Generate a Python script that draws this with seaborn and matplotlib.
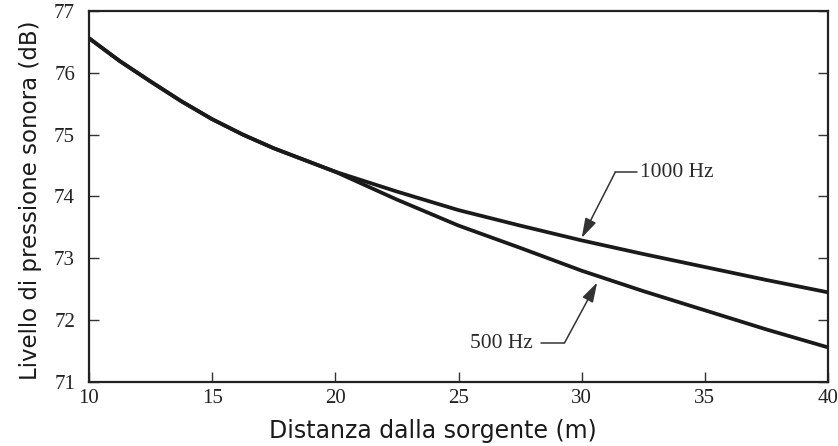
import matplotlib
matplotlib.use("Agg")
import matplotlib.pyplot as plt
import seaborn as sns
import pandas as pd

# Data
distance = [10, 11.25, 12.5, 13.75, 15, 16.25, 17.5, 20, 22.5, 25, 27.5, 30, 32.5, 35, 37.5, 40]
spl_1000 = [76.56, 76.19, 75.86, 75.54, 75.25, 75.00, 74.78, 74.40, 74.08, 73.78, 73.53, 73.29, 73.07, 72.86, 72.65, 72.45]
spl_500 = [76.56, 76.19, 75.86, 75.54, 75.25, 75.00, 74.78, 74.40, 73.95, 73.53, 73.17, 72.80, 72.47, 72.16, 71.85, 71.56]
x_ticks = [10, 15, 20, 25, 30, 35, 40]
y_ticks = [71, 72, 73, 74, 75, 76, 77]
label_1000 = "1000 Hz"
label_500 = "500 Hz"
x_label = "Distanza dalla sorgente (m)"
y_label = "Livello di pressione sonora (dB)"

df = pd.DataFrame({
    "d": distance * 2,
    "spl": spl_1000 + spl_500,
    "f": [label_1000] * len(distance) + [label_500] * len(distance),
})

sns.set_theme(style="white")
plt.rcParams["font.family"] = ["DejaVu Sans"]

fig = plt.figure(figsize=(8.38, 4.46), dpi=100)
ax = fig.add_axes([89 / 838, 1 - 382 / 446, (828 - 89) / 838, (382 - 11) / 446])

sns.lineplot(data=df, x="d", y="spl", hue="f", palette=["#1a1a1a", "#1a1a1a"],
             linewidth=2.7, legend=False, ax=ax)

ax.set_xlim(10, 40)
ax.set_ylim(71, 77)
ax.set_xticks(x_ticks)
ax.set_yticks(y_ticks)
serif = ["Liberation Serif", "DejaVu Serif"]
ax.set_xticklabels([str(t) for t in x_ticks], family=serif, fontsize=15, color="#222222")
ax.set_yticklabels([str(t) for t in y_ticks], family=serif, fontsize=15, color="#222222")
ax.tick_params(axis="both", direction="in", length=7, width=1.0, color="#333333",
               bottom=True, left=True, right=True, top=False)
ax.tick_params(axis="x", pad=5)
ax.tick_params(axis="y", pad=10)

for sp in ax.spines.values():
    sp.set_visible(True)
    sp.set_color("#222222")
    sp.set_linewidth(1.6)

ax.set_xlabel(x_label, fontsize=17, color="#1a1a1a")
ax.set_ylabel(y_label, fontsize=16.5, color="#1a1a1a")
ax.xaxis.set_label_coords(0.465, -0.10)
ax.yaxis.set_label_coords(-0.064, 0.49)

# Annotations with leader lines
ax.plot([31.36, 32.25], [74.39, 74.39], color="#333333", lw=1.1)
ax.annotate("", xy=(30.0, 73.33), xytext=(31.36, 74.39),
            arrowprops=dict(arrowstyle="-|>,head_length=1.0,head_width=0.3",
                            color="#333333", lw=1.1, shrinkA=0, shrinkB=0))
ax.text(32.37, 74.39, label_1000, family=serif, fontsize=15.5, color="#2a2a2a",
        ha="left", va="center")

ax.plot([28.36, 29.3], [71.63, 71.63], color="#333333", lw=1.1)
ax.annotate("", xy=(30.63, 72.61), xytext=(29.3, 71.63),
            arrowprops=dict(arrowstyle="-|>,head_length=1.0,head_width=0.3",
                            color="#333333", lw=1.1, shrinkA=0, shrinkB=0))
ax.text(28.0, 71.62, label_500, family=serif, fontsize=15.5, color="#2a2a2a",
        ha="right", va="center")

fig.savefig("out.png", dpi=100)
